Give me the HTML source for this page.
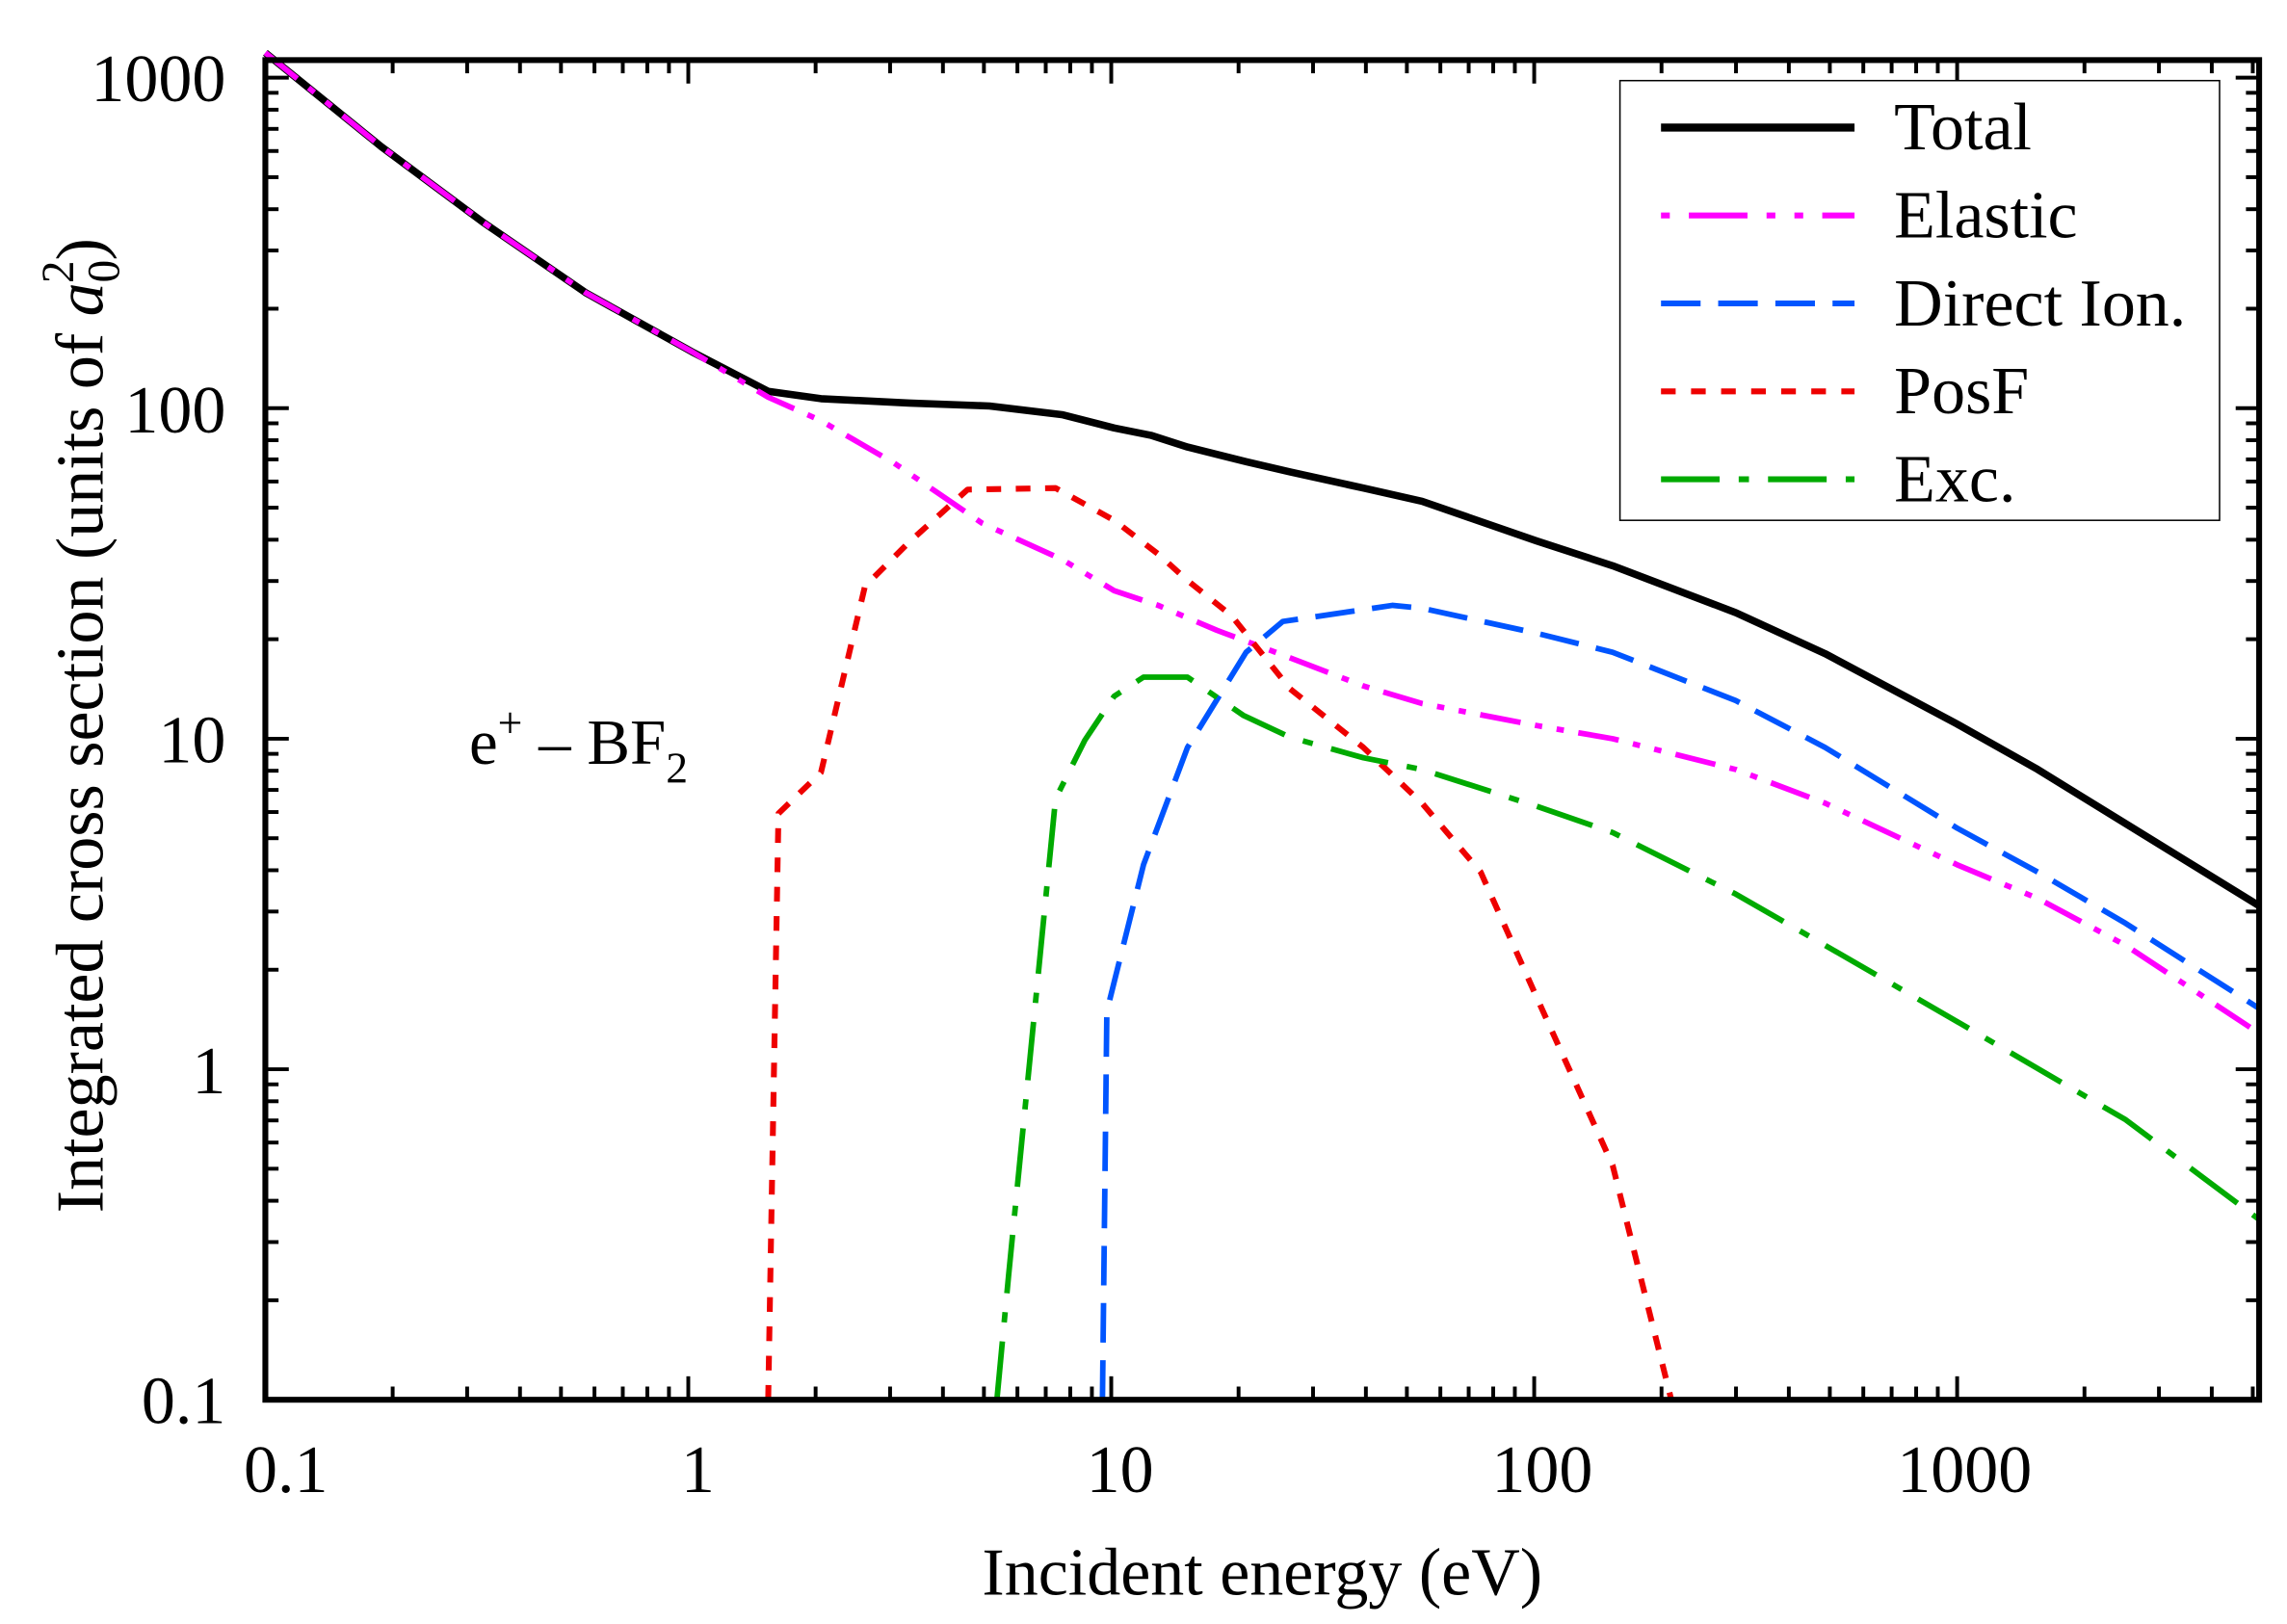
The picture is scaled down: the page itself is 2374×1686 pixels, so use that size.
<!DOCTYPE html>
<html><head><meta charset="utf-8"><style>html,body{margin:0;padding:0;background:#fff}svg{display:block}</style></head>
<body>
<svg id="s" xmlns="http://www.w3.org/2000/svg" width="2374" height="1686" viewBox="0 0 1560 1108" preserveAspectRatio="none" font-family="Liberation Serif, serif">
<rect width="1560" height="1108" fill="#fff"/>
<g id="ticks" stroke="#000" stroke-width="2.6"></g>
<g fill="none" stroke-linejoin="round">
<polyline stroke="#000" stroke-width="5" points="181,36 260,100 330,152 400,200 472,240 524,267 560,272 620,275 675,277 725,283 760,292 785,297 810,305 850,315 880,322 930,333 970,342 1048,369 1100,386 1184,418 1245,446 1335,494 1390,525 1450,562 1541,618"/>
<polyline stroke="#ff00ff" stroke-width="3.8" stroke-dasharray="28 10 5 10 5 10" points="181,36 260,100 330,152 400,200 472,240 524,271 560,287 610,316 670,357 725,382 760,403 790,413 830,430 870,445 930,468 970,480 1048,495 1100,504 1184,525 1245,548 1335,590 1390,613 1450,645 1541,705"/>
<polyline stroke="#0055ff" stroke-width="3.8" stroke-dasharray="27 12" points="752,955 755,690 780,590 810,510 850,445 875,424 950,413 970,415 1048,432 1100,445 1184,478 1245,510 1335,565 1390,595 1450,630 1541,688"/>
<polyline stroke="#ee0000" stroke-width="4" stroke-dasharray="10 10" points="524,955 531,555 560,527 590,400 620,370 660,334 720,333 760,355 790,378 810,396 840,420 880,470 930,510 970,548 1010,595 1048,680 1100,795 1140,955"/>
<polyline stroke="#00aa00" stroke-width="3.8" stroke-dasharray="40 13 7 13" points="680,955 688,870 720,545 740,505 760,475 780,462 810,462 848,488 880,503 930,517 970,525 1048,550 1100,568 1184,610 1245,645 1335,697 1450,764 1541,832"/>
</g>
<rect x="181" y="41" width="1360" height="914" fill="none" stroke="#000" stroke-width="4"/>
<rect x="1105" y="55" width="409" height="300" fill="#fff" stroke="#000" stroke-width="1"/>
<g stroke-width="4">
<line x1="1133" y1="87" x2="1265" y2="87" stroke="#000" stroke-width="5.5"/>
<line x1="1133" y1="147" x2="1265" y2="147" stroke="#ff00ff" stroke-dasharray="6 13 40 13 6 13 6 13 40"/>
<line x1="1133" y1="207" x2="1265" y2="207" stroke="#0055ff" stroke-dasharray="27 12"/>
<line x1="1133" y1="267" x2="1265" y2="267" stroke="#ee0000" stroke-dasharray="10 10.5"/>
<line x1="1133" y1="327" x2="1265" y2="327" stroke="#00aa00" stroke-dasharray="40 13 7 13"/>
</g>
<g font-size="46" fill="#000">
<text x="1292" y="102">Total</text>
<text x="1292" y="162">Elastic</text>
<text x="1292" y="222">Direct Ion.</text>
<text x="1292" y="282">PosF</text>
<text x="1292" y="342">Exc.</text>
</g>
<g font-size="46" fill="#000" text-anchor="end">
<text x="154" y="69">1000</text>
<text x="154" y="295">100</text>
<text x="154" y="520">10</text>
<text x="154" y="746">1</text>
<text x="154" y="971">0.1</text>
</g>
<g font-size="46" fill="#000" text-anchor="middle">
<text x="195" y="1018">0.1</text>
<text x="476" y="1018">1</text>
<text x="764" y="1018">10</text>
<text x="1052" y="1018">100</text>
<text x="1340" y="1018">1000</text>
<text x="861" y="1088">Incident energy (eV)</text>
</g>
<text x="320" y="521" font-size="44">e<tspan dy="-18" font-size="30">+</tspan><tspan dy="18"> – BF</tspan><tspan dy="13" font-size="30">2</tspan></text>
<text transform="translate(70,495) rotate(-90)" text-anchor="middle" font-size="46">Integrated cross section (units of <tspan font-style="italic">a</tspan><tspan dy="11" font-size="31">0</tspan><tspan dx="-16" dy="-31" font-size="31">2</tspan><tspan dy="20">)</tspan></text>
</svg>
<script>
(function(){
var g=document.getElementById('ticks'),ns='http://www.w3.org/2000/svg';
function L(x1,y1,x2,y2){var l=document.createElementNS(ns,'line');l.setAttribute('x1',x1);l.setAttribute('y1',y1);l.setAttribute('x2',x2);l.setAttribute('y2',y2);g.appendChild(l);}
var X0=181,XD=288.5,L0=41,B=955,YD=225.5,R=1541;
for(var d=0;d<5;d++){for(var m=1;m<10;m++){var x=X0+(d+Math.log10(m))*XD;if(x>R)continue;var len=m==1?16:9;L(x,B,x,B-len);L(x,L0,x,L0+len);}}
for(var d=-1;d<4;d++){for(var m=1;m<10;m++){var y=B-(d+1+Math.log10(m))*YD;if(y<L0)continue;var len=m==1?16:9;L(X0,y,X0+len,y);L(R,y,R-len,y);}}
})();
</script>
</body></html>
